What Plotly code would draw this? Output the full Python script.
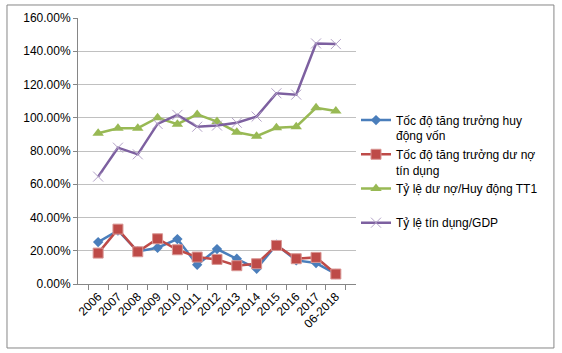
import plotly.graph_objects as go

years = ["2006", "2007", "2008", "2009", "2010", "2011", "2012", "2013", "2014", "2015", "2016", "2017", "06-2018"]
huy_dong = [25.2, 32.2, 19.6, 21.8, 27.0, 11.6, 21.0, 15.2, 9.2, 23.6, 14.2, 12.6, 6.0]
du_no = [18.6, 33.0, 19.4, 27.2, 20.6, 16.2, 14.8, 11.0, 12.2, 23.2, 15.2, 16.0, 6.0]
ty_le_du_no = [90.7, 93.7, 93.7, 100.0, 96.1, 102.0, 97.7, 91.3, 88.9, 94.0, 94.6, 106.0, 104.0]
tin_dung_gdp = [64.6, 82.0, 78.0, 96.3, 101.7, 94.6, 95.3, 97.0, 100.7, 114.7, 113.9, 144.7, 144.3]

names = [
    "Tốc độ tăng trưởng huy<br>động vốn",
    "Tốc độ tăng trưởng dư nợ<br>tín dụng",
    "Tỷ lệ dư nợ/Huy động TT1<br> ",
    "Tỷ lệ tín dụng/GDP<br> ",
]

fig = go.Figure()
series = [huy_dong, du_no, ty_le_du_no, tin_dung_gdp]
line_colors = ["#4A7EBB", "#BE4B48", "#98B954", "#7D60A0"]
markers = [
    dict(symbol="diamond", size=8, color="#4A7EBB"),
    dict(symbol="square", size=10, color="#BE4B48", line=dict(color="#d99694", width=1)),
    dict(symbol="triangle-up", size=10, color="#98B954"),
    dict(symbol="x-thin", size=10, line=dict(color="#b3a2c7", width=1)),
]
for i, (vals, nm) in enumerate(zip(series, names)):
    fig.add_trace(go.Scatter(
        x=years, y=[v / 100 for v in vals], name=nm, mode="lines+markers",
        line=dict(color=line_colors[i], width=2.5), marker=markers[i],
        legendgroup=f"g{i}",
    ))

fig.update_layout(
    width=562, height=353,
    margin=dict(l=78, r=206, t=18, b=69),
    paper_bgcolor="white", plot_bgcolor="white",
    font=dict(family="Liberation Sans, Arial, sans-serif", size=12, color="#000000"),
    showlegend=True,
    legend=dict(x=1.0, xanchor="left", y=0.67, yanchor="top", valign="top",
                font=dict(size=12), tracegroupgap=0, bgcolor="rgba(0,0,0,0)"),
    xaxis=dict(type="category", tickangle=-45, showgrid=False, showline=True,
               linecolor="#868686", linewidth=1, ticks="outside", tickson="boundaries",
               ticklen=5, tickcolor="#868686", zeroline=False),
    yaxis=dict(range=[0, 1.6], tickformat=".2%", dtick=0.2, showgrid=True,
               gridcolor="#c0c0c0", gridwidth=1, showline=True, linecolor="#868686",
               ticks="outside", ticklen=4, tickcolor="#868686", zeroline=False),
    shapes=[dict(type="rect", xref="paper", yref="paper",
                 x0=-0.2554, x1=1.712, y0=-0.2406, y1=1.0489,
                 line=dict(color="#868686", width=1), fillcolor="rgba(0,0,0,0)", layer="below")],
)

fig.write_html("out.html")
